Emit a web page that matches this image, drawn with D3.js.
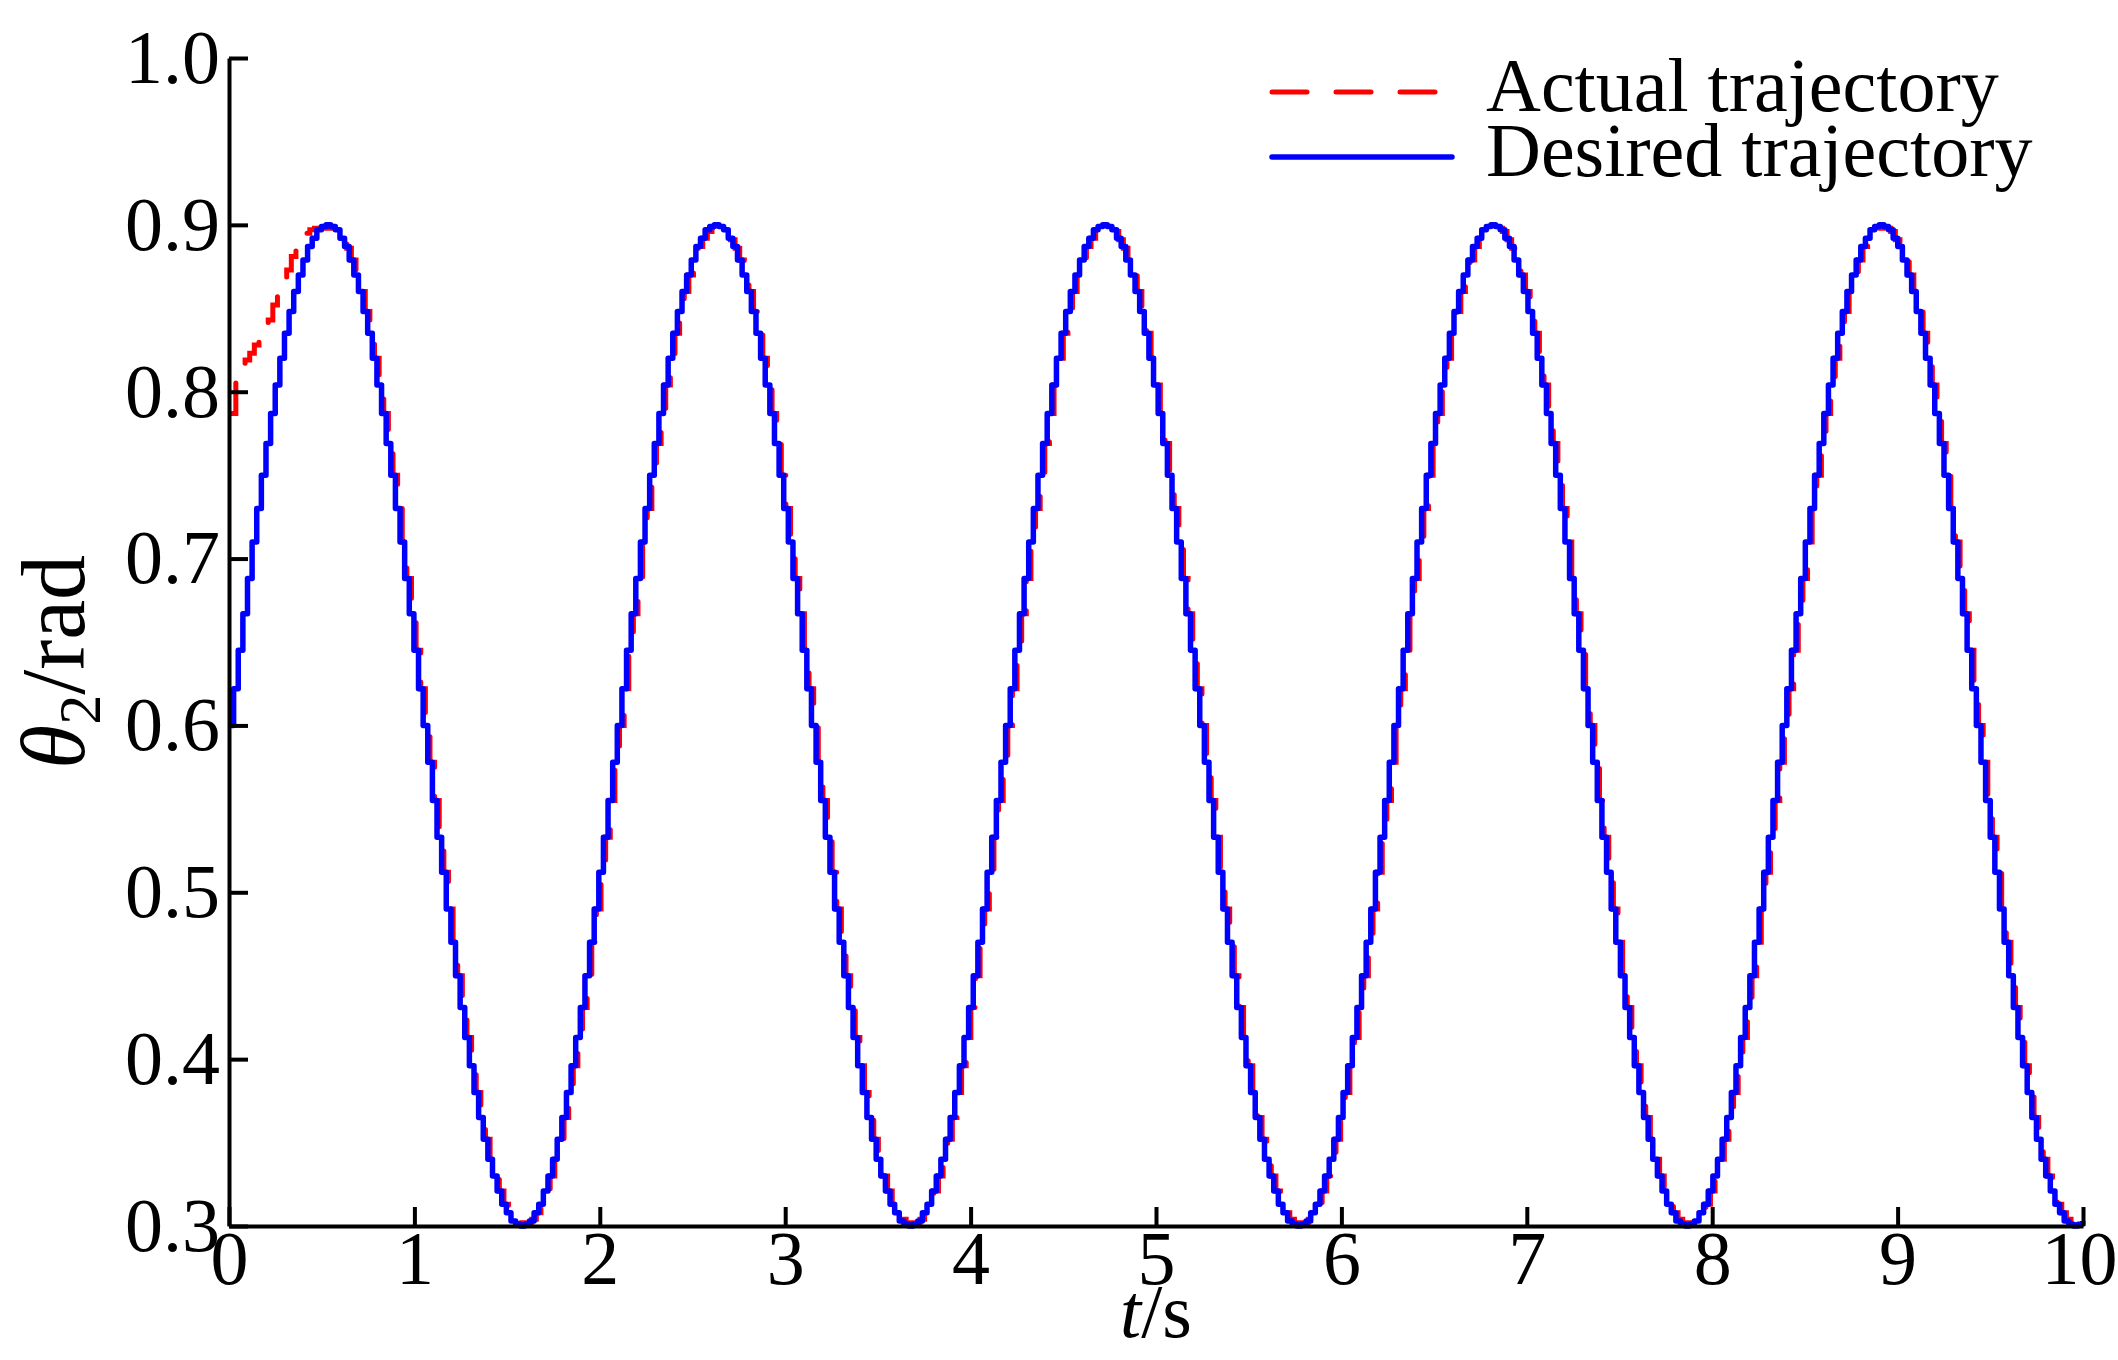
<!DOCTYPE html>
<html>
<head>
<meta charset="utf-8">
<script src="https://cdn.jsdelivr.net/npm/d3@7"></script>
<style>
  body { margin: 0; background: #fff; }
  text { font-family: "Liberation Serif", "Times New Roman", serif; }
</style>
</head>
<body>
<script>
// tick labels
var xTicks = [0, 1, 2, 3, 4, 5, 6, 7, 8, 9, 10];
var yTicks = [0.3, 0.4, 0.5, 0.6, 0.7, 0.8, 0.9, 1.0];

// held samples, one every sampleStep seconds (about 0.025 s)
var sampleStep = Math.PI / 126;
var actualDelay = 0.012; // actual lags a little behind desired

// theta2 desired (rad)
var desired = [
  0.600,0.622,0.645,0.667,0.688,0.710,0.730,0.750,0.769,0.787,0.804,0.820,0.835,0.848,0.860,0.870,0.879,0.887,0.892,0.897,0.899,0.900,0.899,0.897,0.892,0.887,0.879,0.870,0.860,0.848,0.835,0.820,0.804,0.787,0.769,0.750,0.730,0.710,0.688,0.667,0.645,0.622,0.600,0.578,0.555,0.533,0.512,0.490,0.470,0.450,0.431,0.413,0.396,0.380,0.365,0.352,0.340,0.330,0.321,0.313,0.308,0.303,0.301,0.300,0.301,0.303,0.308,0.313,0.321,0.330,0.340,0.352,0.365,0.380,0.396,0.413,0.431,0.450,0.470,0.490,0.512,0.533,0.555,0.578,
  0.600,0.622,0.645,0.667,0.688,0.710,0.730,0.750,0.769,0.787,0.804,0.820,0.835,0.848,0.860,0.870,0.879,0.887,0.892,0.897,0.899,0.900,0.899,0.897,0.892,0.887,0.879,0.870,0.860,0.848,0.835,0.820,0.804,0.787,0.769,0.750,0.730,0.710,0.688,0.667,0.645,0.622,0.600,0.578,0.555,0.533,0.512,0.490,0.470,0.450,0.431,0.413,0.396,0.380,0.365,0.352,0.340,0.330,0.321,0.313,0.308,0.303,0.301,0.300,0.301,0.303,0.308,0.313,0.321,0.330,0.340,0.352,0.365,0.380,0.396,0.413,0.431,0.450,0.470,0.490,0.512,0.533,0.555,0.578,
  0.600,0.622,0.645,0.667,0.688,0.710,0.730,0.750,0.769,0.787,0.804,0.820,0.835,0.848,0.860,0.870,0.879,0.887,0.892,0.897,0.899,0.900,0.899,0.897,0.892,0.887,0.879,0.870,0.860,0.848,0.835,0.820,0.804,0.787,0.769,0.750,0.730,0.710,0.688,0.667,0.645,0.622,0.600,0.578,0.555,0.533,0.512,0.490,0.470,0.450,0.431,0.413,0.396,0.380,0.365,0.352,0.340,0.330,0.321,0.313,0.308,0.303,0.301,0.300,0.301,0.303,0.308,0.313,0.321,0.330,0.340,0.352,0.365,0.380,0.396,0.413,0.431,0.450,0.470,0.490,0.512,0.533,0.555,0.578,
  0.600,0.622,0.645,0.667,0.688,0.710,0.730,0.750,0.769,0.787,0.804,0.820,0.835,0.848,0.860,0.870,0.879,0.887,0.892,0.897,0.899,0.900,0.899,0.897,0.892,0.887,0.879,0.870,0.860,0.848,0.835,0.820,0.804,0.787,0.769,0.750,0.730,0.710,0.688,0.667,0.645,0.622,0.600,0.578,0.555,0.533,0.512,0.490,0.470,0.450,0.431,0.413,0.396,0.380,0.365,0.352,0.340,0.330,0.321,0.313,0.308,0.303,0.301,0.300,0.301,0.303,0.308,0.313,0.321,0.330,0.340,0.352,0.365,0.380,0.396,0.413,0.431,0.450,0.470,0.490,0.512,0.533,0.555,0.578,
  0.600,0.622,0.645,0.667,0.688,0.710,0.730,0.750,0.769,0.787,0.804,0.820,0.835,0.848,0.860,0.870,0.879,0.887,0.892,0.897,0.899,0.900,0.899,0.897,0.892,0.887,0.879,0.870,0.860,0.848,0.835,0.820,0.804,0.787,0.769,0.750,0.730,0.710,0.688,0.667,0.645,0.622,0.600,0.578,0.555,0.533,0.512,0.490,0.470,0.450,0.431,0.413,0.396,0.380,0.365,0.352,0.340,0.330,0.321,0.313,0.308,0.303,0.301,0.300,0.301,0.303
];

// theta2 actual (rad), red dashed: starts near 0.79 and catches up by the first peak
var actual = [
  0.787,0.806,0.812,0.819,0.823,0.828,0.832,0.836,0.843,0.852,0.859,0.865,0.873,0.881,0.886,0.892,0.895,0.897,0.898,0.898,0.899,0.898,0.898,0.896,0.891,0.886,0.879,0.870,0.860,0.848,0.835,0.820,0.804,0.787,0.769,0.750,0.730,0.710,0.688,0.667,0.645,0.622,0.600,0.578,0.555,0.533,0.512,0.490,0.470,0.450,0.431,0.413,0.396,0.380,0.365,0.352,0.340,0.330,0.321,0.313,0.308,0.304,0.302,0.302,0.302,0.304,0.308,0.313,0.321,0.330,0.340,0.352,0.365,0.380,0.396,0.413,0.431,0.450,0.470,0.490,0.512,0.533,0.555,0.578,
  0.600,0.622,0.645,0.667,0.688,0.710,0.730,0.750,0.769,0.787,0.804,0.820,0.835,0.848,0.860,0.870,0.879,0.887,0.892,0.896,0.898,0.898,0.898,0.896,0.891,0.886,0.879,0.870,0.860,0.848,0.835,0.820,0.804,0.787,0.769,0.750,0.730,0.710,0.688,0.667,0.645,0.622,0.600,0.578,0.555,0.533,0.512,0.490,0.470,0.450,0.431,0.413,0.396,0.380,0.365,0.352,0.340,0.330,0.321,0.313,0.308,0.304,0.302,0.302,0.302,0.304,0.308,0.313,0.321,0.330,0.340,0.352,0.365,0.380,0.396,0.413,0.431,0.450,0.470,0.490,0.512,0.533,0.555,0.578,
  0.600,0.622,0.645,0.667,0.688,0.710,0.730,0.750,0.769,0.787,0.804,0.820,0.835,0.848,0.860,0.870,0.879,0.887,0.892,0.896,0.898,0.898,0.898,0.896,0.891,0.886,0.879,0.870,0.860,0.848,0.835,0.820,0.804,0.787,0.769,0.750,0.730,0.710,0.688,0.667,0.645,0.622,0.600,0.578,0.555,0.533,0.512,0.490,0.470,0.450,0.431,0.413,0.396,0.380,0.365,0.352,0.340,0.330,0.321,0.313,0.308,0.304,0.302,0.302,0.302,0.304,0.308,0.313,0.321,0.330,0.340,0.352,0.365,0.380,0.396,0.413,0.431,0.450,0.470,0.490,0.512,0.533,0.555,0.578,
  0.600,0.622,0.645,0.667,0.688,0.710,0.730,0.750,0.769,0.787,0.804,0.820,0.835,0.848,0.860,0.870,0.879,0.887,0.892,0.896,0.898,0.898,0.898,0.896,0.891,0.886,0.879,0.870,0.860,0.848,0.835,0.820,0.804,0.787,0.769,0.750,0.730,0.710,0.688,0.667,0.645,0.622,0.600,0.578,0.555,0.533,0.512,0.490,0.470,0.450,0.431,0.413,0.396,0.380,0.365,0.352,0.340,0.330,0.321,0.313,0.308,0.304,0.302,0.302,0.302,0.304,0.308,0.313,0.321,0.330,0.340,0.352,0.365,0.380,0.396,0.413,0.431,0.450,0.470,0.490,0.512,0.533,0.555,0.578,
  0.600,0.622,0.645,0.667,0.688,0.710,0.730,0.750,0.769,0.787,0.804,0.820,0.835,0.848,0.860,0.870,0.879,0.887,0.892,0.896,0.898,0.898,0.898,0.896,0.891,0.886,0.879,0.870,0.860,0.848,0.835,0.820,0.804,0.787,0.769,0.750,0.730,0.710,0.688,0.667,0.645,0.622,0.600,0.578,0.555,0.533,0.512,0.490,0.470,0.450,0.431,0.413,0.396,0.380,0.365,0.352,0.340,0.330,0.321,0.313,0.308,0.304,0.302,0.302,0.303,0.306
];

var width = 2118, height = 1360;
var fontSize = 76;

var svg = d3.select('body').append('svg')
  .attr('width', width)
  .attr('height', height);

var x = d3.scaleLinear().domain([0, 10]).range([229, 2083]);
var y = d3.scaleLinear().domain([0.3, 1.0]).range([1226, 58]);

var lineActual = d3.line()
  .x(function (d, i) { return x(i * sampleStep + actualDelay); })
  .y(function (d) { return y(d); })
  .curve(d3.curveStepAfter);

var lineDesired = d3.line()
  .x(function (d, i) { return x(i * sampleStep); })
  .y(function (d) { return y(d); })
  .curve(d3.curveStepAfter);

svg.append('path')
  .attr('d', lineActual(actual))
  .attr('fill', 'none')
  .attr('stroke', '#ff0000')
  .attr('stroke-width', 5)
  .attr('stroke-linecap', 'round')
  .attr('stroke-dasharray', '35,29');

svg.append('path')
  .attr('d', lineDesired(desired))
  .attr('fill', 'none')
  .attr('stroke', '#0000ff')
  .attr('stroke-width', 5.5)
  .attr('stroke-linejoin', 'round');

// axes, ticks pointing inward
var xAxis = svg.append('g')
  .attr('transform', 'translate(0,' + y(0.3) + ')')
  .call(d3.axisBottom(x).tickValues(xTicks).tickFormat(d3.format('d'))
    .tickSizeInner(-19).tickSizeOuter(0).tickPadding(4));

var yAxis = svg.append('g')
  .attr('transform', 'translate(' + x(0) + ',0)')
  .call(d3.axisLeft(y).tickValues(yTicks).tickFormat(d3.format('.1f'))
    .tickSizeInner(-19).tickSizeOuter(0).tickPadding(9));

[xAxis, yAxis].forEach(function (g) {
  g.attr('font-family', '"Liberation Serif", serif').attr('font-size', fontSize);
  g.select('.domain').attr('stroke', '#000').attr('stroke-width', 4);
  g.selectAll('.tick line').attr('stroke', '#000').attr('stroke-width', 4);
  g.selectAll('.tick text').attr('fill', '#000');
});
// last x label sits against the right edge, as in the original
xAxis.selectAll('.tick text').filter(function (d) { return d === 10; })
  .attr('dx', -4);

// axis titles
var xTitle = svg.append('text')
  .attr('x', (x(0) + x(10)) / 2)
  .attr('y', 1337)
  .attr('text-anchor', 'middle')
  .attr('font-size', fontSize);
xTitle.append('tspan').attr('font-style', 'italic').text('t');
xTitle.append('tspan').text('/s');

var yTitle = svg.append('text')
  .attr('transform', 'translate(84,662) rotate(-90)')
  .attr('text-anchor', 'middle')
  .attr('font-size', 90);
yTitle.append('tspan').attr('font-style', 'italic').text('θ');
yTitle.append('tspan').attr('font-size', 60).attr('dy', 16).text('2');
yTitle.append('tspan').attr('dy', -16).text('/rad');

// legend
var legend = [
  { label: 'Actual trajectory', color: '#ff0000', dash: '35,29', len: 168, width: 5 },
  { label: 'Desired trajectory', color: '#0000ff', dash: null, len: 180, width: 5.5 }
];

var lg = svg.append('g');
legend.forEach(function (d, i) {
  var ly = 92 + i * 65;
  lg.append('line')
    .attr('x1', 1272).attr('x2', 1272 + d.len)
    .attr('y1', ly).attr('y2', ly)
    .attr('stroke', d.color)
    .attr('stroke-width', d.width)
    .attr('stroke-linecap', 'round')
    .attr('stroke-dasharray', d.dash);
  lg.append('text')
    .attr('x', 1486)
    .attr('y', ly + 19)
    .attr('font-size', fontSize)
    .text(d.label);
});
</script>
</body>
</html>
